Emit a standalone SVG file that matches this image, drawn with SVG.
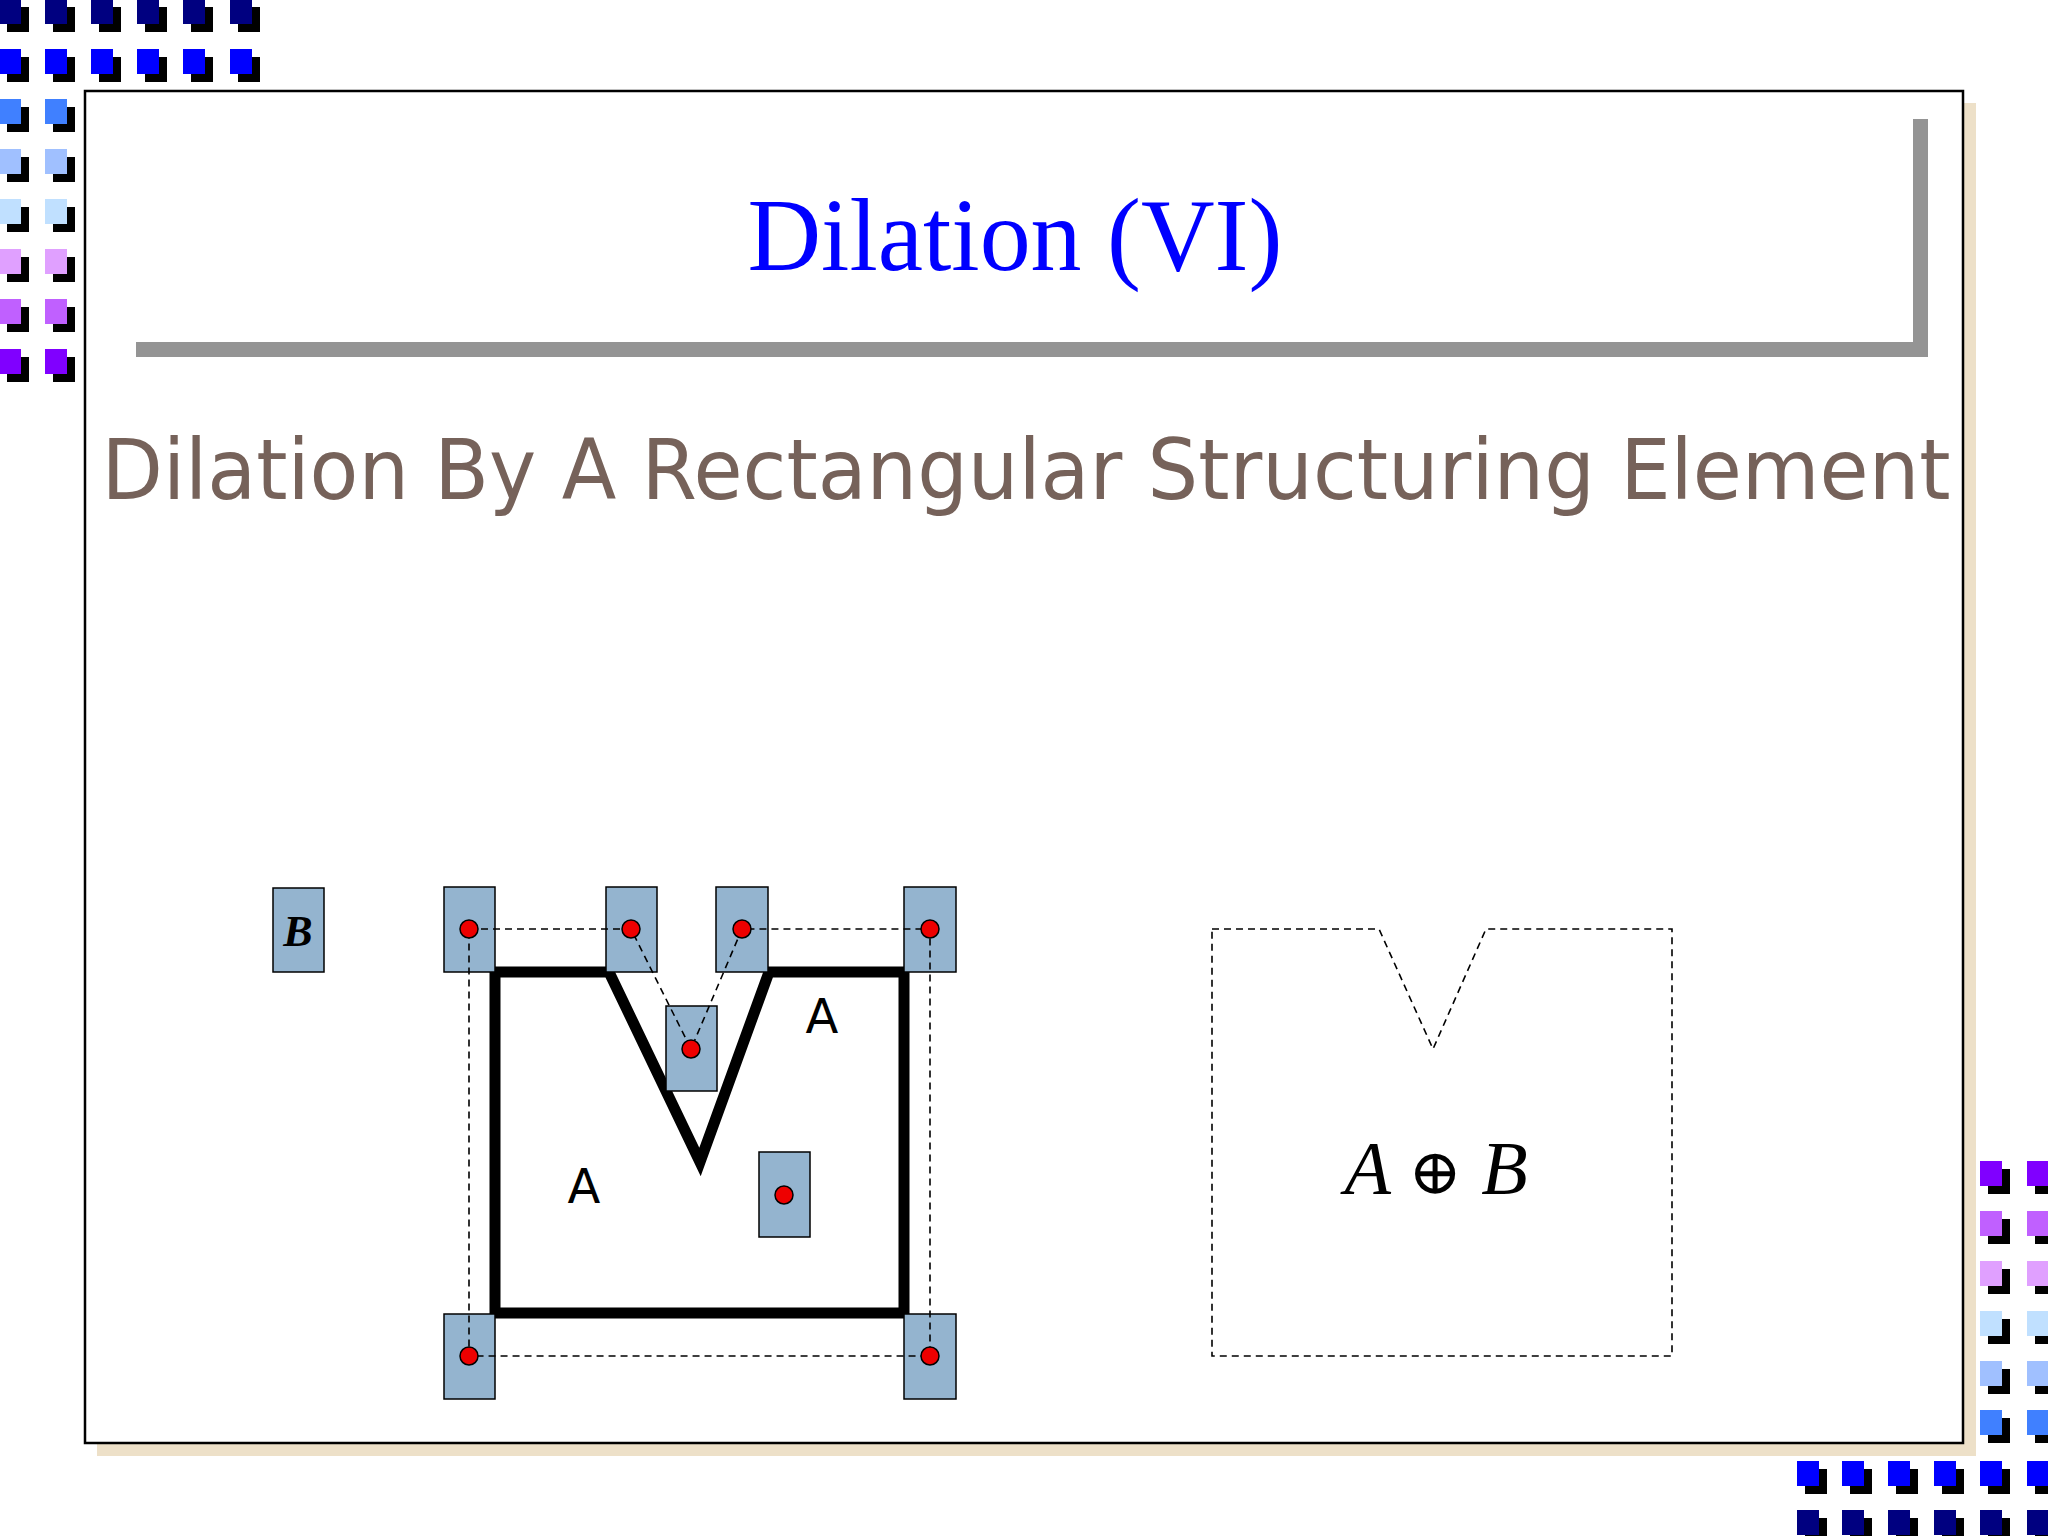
<svg xmlns="http://www.w3.org/2000/svg" width="2048" height="1536" viewBox="0 0 2048 1536">
<defs>
<style>
.sh{fill:#000}
.se{fill:#94b4cf;stroke:#000;stroke-width:1.5}
.dot{fill:#e00;stroke:#000;stroke-width:1.5}
.dash{fill:none;stroke:#000;stroke-width:1.6;stroke-dasharray:7 5}
.lbl{font-family:"DejaVu Sans",sans-serif;font-size:48px;fill:#000;text-anchor:middle}
</style>
<g id="sq"><rect class="sh" x="8" y="8" width="22" height="25"/><rect x="0" y="0" width="22" height="25"/></g>
</defs>
<rect width="2048" height="1536" fill="#fff"/>
<g id="deco-tl">
<use href="#sq" x="-1" y="-1" fill="#000080"/><use href="#sq" x="45" y="-1" fill="#000080"/><use href="#sq" x="91" y="-1" fill="#000080"/><use href="#sq" x="137" y="-1" fill="#000080"/><use href="#sq" x="183" y="-1" fill="#000080"/><use href="#sq" x="230" y="-1" fill="#000080"/>
<use href="#sq" x="-1" y="49" fill="#0000ff"/><use href="#sq" x="45" y="49" fill="#0000ff"/><use href="#sq" x="91" y="49" fill="#0000ff"/><use href="#sq" x="137" y="49" fill="#0000ff"/><use href="#sq" x="183" y="49" fill="#0000ff"/><use href="#sq" x="230" y="49" fill="#0000ff"/>
<use href="#sq" x="-1" y="99" fill="#4080ff"/><use href="#sq" x="45" y="99" fill="#4080ff"/>
<use href="#sq" x="-1" y="149" fill="#a0c0ff"/><use href="#sq" x="45" y="149" fill="#a0c0ff"/>
<use href="#sq" x="-1" y="199" fill="#c0e0ff"/><use href="#sq" x="45" y="199" fill="#c0e0ff"/>
<use href="#sq" x="-1" y="249" fill="#e0a0ff"/><use href="#sq" x="45" y="249" fill="#e0a0ff"/>
<use href="#sq" x="-1" y="299" fill="#c060ff"/><use href="#sq" x="45" y="299" fill="#c060ff"/>
<use href="#sq" x="-1" y="349" fill="#8000ff"/><use href="#sq" x="45" y="349" fill="#8000ff"/>
</g>
<g id="deco-br">
<use href="#sq" x="1980" y="1161" fill="#8000ff"/><use href="#sq" x="2027" y="1161" fill="#8000ff"/>
<use href="#sq" x="1980" y="1211" fill="#c060ff"/><use href="#sq" x="2027" y="1211" fill="#c060ff"/>
<use href="#sq" x="1980" y="1261" fill="#e0a0ff"/><use href="#sq" x="2027" y="1261" fill="#e0a0ff"/>
<use href="#sq" x="1980" y="1311" fill="#c0e0ff"/><use href="#sq" x="2027" y="1311" fill="#c0e0ff"/>
<use href="#sq" x="1980" y="1361" fill="#a0c0ff"/><use href="#sq" x="2027" y="1361" fill="#a0c0ff"/>
<use href="#sq" x="1980" y="1410" fill="#4080ff"/><use href="#sq" x="2027" y="1410" fill="#4080ff"/>
<use href="#sq" x="1797" y="1461" fill="#0000ff"/><use href="#sq" x="1842" y="1461" fill="#0000ff"/><use href="#sq" x="1888" y="1461" fill="#0000ff"/><use href="#sq" x="1934" y="1461" fill="#0000ff"/><use href="#sq" x="1980" y="1461" fill="#0000ff"/><use href="#sq" x="2027" y="1461" fill="#0000ff"/>
<use href="#sq" x="1797" y="1510" fill="#000080"/><use href="#sq" x="1842" y="1510" fill="#000080"/><use href="#sq" x="1888" y="1510" fill="#000080"/><use href="#sq" x="1934" y="1510" fill="#000080"/><use href="#sq" x="1980" y="1510" fill="#000080"/><use href="#sq" x="2027" y="1510" fill="#000080"/>
</g>
<g id="frame">
<rect x="97" y="103" width="1879" height="1353" fill="#ede0c8"/>
<rect x="85" y="91" width="1878" height="1352" fill="#fff" stroke="#000" stroke-width="2.5"/>
<rect x="136" y="342" width="1792" height="15" fill="#949494"/>
<rect x="1913" y="119" width="15" height="238" fill="#949494"/>
</g>
<text id="title" x="1015" y="270" font-family="Liberation Serif,serif" font-size="104" fill="#0000ff" text-anchor="middle" textLength="535" lengthAdjust="spacingAndGlyphs">Dilation (VI)</text>
<text id="subtitle" x="1026" y="499" font-family="DejaVu Sans,sans-serif" font-size="84" fill="#76625a" text-anchor="middle" textLength="1849" lengthAdjust="spacingAndGlyphs">Dilation By A Rectangular Structuring Element</text>
<g id="B">
<rect class="se" x="273" y="888" width="51" height="84"/>
<text x="298" y="946" font-family="Liberation Serif,serif" font-size="44" font-weight="bold" font-style="italic" text-anchor="middle">B</text>
</g>
<g id="shapeA">
<path d="M495 972 H609 L700 1162 L769 972 H904 V1313 H495 Z" fill="none" stroke="#000" stroke-width="11" stroke-linejoin="miter"/>
<text class="lbl" x="584" y="1203">A</text>
<text class="lbl" x="822" y="1033">A</text>
</g>
<g id="elements">
<rect class="se" x="444" y="887" width="51" height="85"/>
<rect class="se" x="606" y="887" width="51" height="85"/>
<rect class="se" x="716" y="887" width="52" height="85"/>
<rect class="se" x="904" y="887" width="52" height="85"/>
<rect class="se" x="666" y="1006" width="51" height="85"/>
<rect class="se" x="759" y="1152" width="51" height="85"/>
<rect class="se" x="444" y="1314" width="51" height="85"/>
<rect class="se" x="904" y="1314" width="52" height="85"/>
</g>
<g id="connectors">
<path class="dash" d="M469 929 H631 L691 1049 L742 929 H930 V1356 H469 Z"/>
<path class="dash" d="M1212 929 H1379 L1433 1049 L1486 929 H1672 V1356 H1212 Z"/>
</g>
<g id="dots">
<circle class="dot" cx="469" cy="929" r="9"/><circle class="dot" cx="631" cy="929" r="9"/><circle class="dot" cx="742" cy="929" r="9"/><circle class="dot" cx="930" cy="929" r="9"/>
<circle class="dot" cx="691" cy="1049" r="9"/><circle class="dot" cx="784" cy="1195" r="9"/><circle class="dot" cx="469" cy="1356" r="9"/><circle class="dot" cx="930" cy="1356" r="9"/>
</g>
<text id="result" x="1436" y="1194" font-family="Liberation Serif,serif" font-size="76" font-style="italic" text-anchor="middle">A <tspan font-style="normal" font-family="DejaVu Serif,serif" font-size="64">⊕</tspan> B</text>
</svg>
